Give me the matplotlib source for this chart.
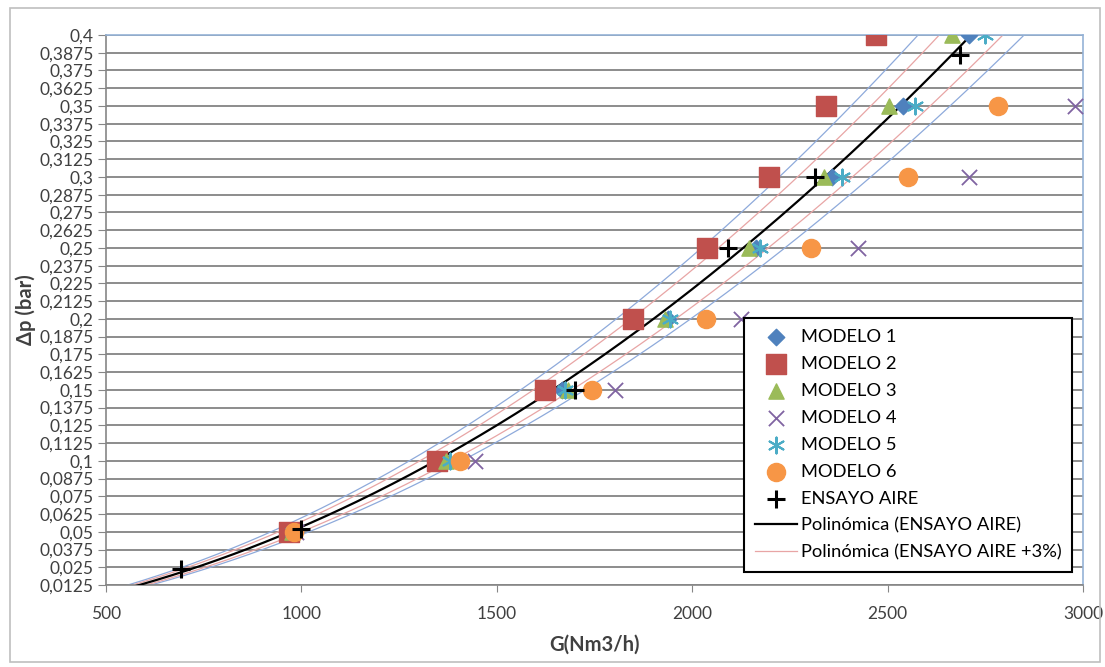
import numpy as np
import matplotlib.pyplot as plt
from matplotlib.patches import Rectangle

plt.rcParams['font.family'] = ['Lato', 'DejaVu Sans']

# niveles de perdida de carga (bar)
dp_niveles = [0.05, 0.1, 0.15, 0.2, 0.25, 0.3, 0.35, 0.4]

# caudal G (Nm3/h) de cada modelo en cada nivel
g_modelo1 = [975, 1367, 1667, 1938, 2163, 2358, 2539, 2708]
g_modelo2 = [968, 1347, 1623, 1848, 2038, 2197, 2342, 2470]
g_modelo3 = [975, 1370, 1682, 1930, 2145, 2337, 2504, 2665]
g_modelo4 = [985, 1444, 1802, 2125, 2424, 2708, 2980, np.nan]
g_modelo5 = [978, 1380, 1675, 1943, 2173, 2383, 2570, 2749]
g_modelo6 = [982, 1406, 1744, 2035, 2304, 2552, 2782, np.nan]

# ensayo con aire
g_aire = [692, 1000, 1700, 2092, 2314, 2685]
dp_aire = [0.024, 0.052, 0.15, 0.25, 0.3, 0.386]

# bandas de tolerancia sobre G
bandas_rojas = [0.97, 1.03]
bandas_azules = [0.95, 1.05]

fig = plt.figure(figsize=(11.05, 6.67), dpi=100)
ax = fig.add_axes([106 / 1105, 1 - 585 / 667, 977 / 1105, 550 / 667])

# marco exterior del grafico
fig.patches.append(Rectangle((10 / 1105, 5 / 667), 1090 / 1105, 654 / 667,
                             transform=fig.transFigure, fill=False,
                             edgecolor='#bfbfbf', linewidth=1.2))

# linea de tendencia polinomica (orden 2) del ensayo de aire
coef = np.polyfit(g_aire, dp_aire, 2)
g_curva = np.linspace(550, 2800, 400)
dp_curva = np.polyval(coef, g_curva)

for f in bandas_azules:
    ax.plot(g_curva * f, dp_curva, color='#8eaadb', linewidth=0.9, zorder=2)
for i, f in enumerate(bandas_rojas):
    ax.plot(g_curva * f, dp_curva, color='#e8a5a5', linewidth=0.9, zorder=2,
            label='Polinómica (ENSAYO AIRE +3%)' if i == 1 else None)

ax.scatter(g_modelo1, dp_niveles, marker='D', s=70, color='#4f81bd', label='MODELO 1', zorder=4)
ax.scatter(g_modelo2, dp_niveles, marker='s', s=190, color='#c0504d', label='MODELO 2', zorder=4)
ax.scatter(g_modelo3, dp_niveles, marker='^', s=120, color='#9bbb59', label='MODELO 3', zorder=4)
ax.scatter(g_modelo4, dp_niveles, marker='x', s=120, color='#8064a2', linewidths=1.3, label='MODELO 4', zorder=4)
ax.scatter(g_modelo5, dp_niveles, marker=(6, 2, 0), s=130, color='#4bacc6', linewidths=1.5, label='MODELO 5', zorder=4)
ax.scatter(g_modelo6, dp_niveles, marker='o', s=170, color='#f79646', label='MODELO 6', zorder=4)
ax.scatter(g_aire, dp_aire, marker='+', s=160, color='black', linewidths=2.2, label='ENSAYO AIRE', zorder=5)
ax.plot(g_curva, dp_curva, color='black', linewidth=1.6, zorder=3, label='Polinómica (ENSAYO AIRE)')

# ejes
ax.set_xlim(500, 3000)
ax.set_ylim(0.0125, 0.4)
ax.set_xticks(np.arange(500, 3001, 500))
yt = np.arange(0.0125, 0.40001, 0.0125)
ax.set_yticks(yt)
ax.set_yticklabels([('%.4f' % v).rstrip('0').replace('.', ',') for v in yt])
ax.tick_params(axis='y', direction='out', length=6, color='#868686', labelsize=12.5, labelcolor='#404040', pad=3)
ax.tick_params(axis='x', direction='out', length=5, color='#868686', labelsize=12.5, labelcolor='#404040', pad=10)
ax.yaxis.grid(True, color='#8c8c8c', linewidth=1.4)
ax.set_axisbelow(True)

for lado in ['left', 'bottom']:
    ax.spines[lado].set_color('#868686')
    ax.spines[lado].set_linewidth(1.2)
for lado in ['top', 'right']:
    ax.spines[lado].set_color('#95b3d7')
    ax.spines[lado].set_linewidth(1.2)

ax.set_xlabel('G(Nm3/h)', fontsize=14.5, fontweight='bold', color='#404040')
ax.set_ylabel('\u0394p (bar)', fontsize=14.5, fontweight='bold', color='#404040')
ax.xaxis.set_label_coords(0.5, -0.09)
ax.yaxis.set_label_coords(-0.072, 0.5)

# leyenda en el orden del original
h, l = ax.get_legend_handles_labels()
orden = ['MODELO 1', 'MODELO 2', 'MODELO 3', 'MODELO 4', 'MODELO 5', 'MODELO 6',
         'ENSAYO AIRE', 'Polinómica (ENSAYO AIRE)', 'Polinómica (ENSAYO AIRE +3%)']
hh = [h[l.index(o)] for o in orden]
leg = ax.legend(hh, orden, loc='lower right', bbox_to_anchor=(0.989, 0.024), borderaxespad=0,
                fontsize=13.2, fancybox=False, framealpha=1, edgecolor='black',
                handlelength=2.3, handletextpad=0.2, labelspacing=0.6, borderpad=0.6,
                scatterpoints=1)
leg.get_frame().set_linewidth(1.5)
leg.set_zorder(10)

fig.savefig('out.png', dpi=100)
